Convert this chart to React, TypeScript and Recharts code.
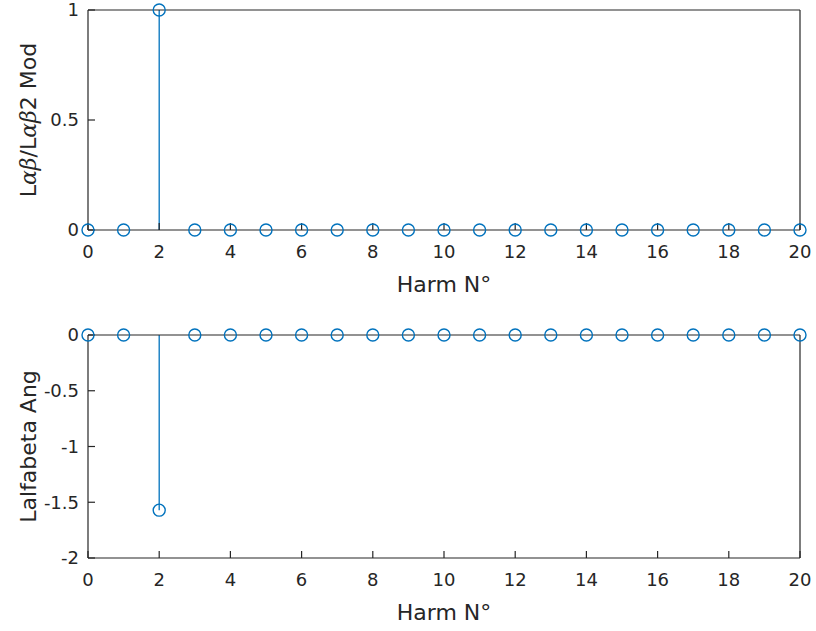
import React from "react";
import {
  ComposedChart,
  Line,
  XAxis,
  YAxis,
  ReferenceLine,
} from "recharts";

const harmonics = [0, 1, 2, 3, 4, 5, 6, 7, 8, 9, 10, 11, 12, 13, 14, 15, 16, 17, 18, 19, 20];
const modValues = [0, 0, 1, 0, 0, 0, 0, 0, 0, 0, 0, 0, 0, 0, 0, 0, 0, 0, 0, 0, 0];
const angValues = [0, 0, -1.5708, 0, 0, 0, 0, 0, 0, 0, 0, 0, 0, 0, 0, 0, 0, 0, 0, 0, 0];

const xTicks = [0, 2, 4, 6, 8, 10, 12, 14, 16, 18, 20];
const modTicks = [0, 0.5, 1];
const angTicks = [-2, -1.5, -1, -0.5, 0];

const STEM = "#0072BD";
const INK = "#262626";
const FONT = "DejaVu Sans, Liberation Sans, Arial, sans-serif";

const modData = harmonics.map((h, i) => ({ h, v: modValues[i] }));
const angData = harmonics.map((h, i) => ({ h, v: angValues[i] }));

// tick labels drawn by hand so the font size sticks
function XTick(props: any) {
  const { x, y, payload } = props;
  return (
    <text x={x} y={y} dy="0.72em" textAnchor="middle" fontSize={18} fontFamily={FONT} fill={INK}>
      {payload.value}
    </text>
  );
}

function YTick(props: any) {
  const { x, y, payload } = props;
  return (
    <text x={x} y={y} dy="0.36em" textAnchor="end" fontSize={18} fontFamily={FONT} fill={INK}>
      {payload.value}
    </text>
  );
}

function yLabel(content: React.ReactNode) {
  return (props: any) => {
    const vb = props.viewBox || {};
    const cx = vb.x + 30;
    const cy = vb.y + vb.height / 2;
    return (
      <text
        x={cx}
        y={cy}
        transform={`rotate(-90, ${cx}, ${cy})`}
        textAnchor="middle"
        dominantBaseline="middle"
        fontSize={22}
        fontFamily={FONT}
        fill={INK}
      >
        {content}
      </text>
    );
  };
}

const greek = (s: string) => (
  <tspan fontStyle="italic" fontFamily="DejaVu Serif, serif">
    {s}
  </tspan>
);

function StemPanel({
  data,
  domain,
  yTicks,
  label,
  height,
  marginTop,
  axisHeight,
}: {
  data: { h: number; v: number }[];
  domain: [number, number];
  yTicks: number[];
  label: React.ReactNode;
  height: number;
  marginTop: number;
  axisHeight: number;
}) {
  return (
    <ComposedChart
      width={816}
      height={height}
      data={data}
      margin={{ top: marginTop, right: 15, bottom: 0, left: 0 }}
    >
      <XAxis
        dataKey="h"
        type="number"
        domain={[0, 20]}
        ticks={xTicks}
        interval={0}
        stroke={INK}
        strokeWidth={1.2}
        tick={<XTick />}
        tickSize={-7}
        tickMargin={22}
        height={axisHeight}
        label={{
          value: "Harm N°",
          position: "insideTop",
          offset: 46,
          fontSize: 22,
          fontFamily: FONT,
          fill: INK,
        }}
      />
      <XAxis
        xAxisId="top"
        orientation="top"
        dataKey="h"
        type="number"
        domain={[0, 20]}
        ticks={xTicks}
        interval={0}
        stroke={INK}
        strokeWidth={1.2}
        tick={false}
        tickSize={-7}
        height={1}
      />
      <YAxis
        type="number"
        domain={domain}
        ticks={yTicks}
        interval={0}
        stroke={INK}
        strokeWidth={1.2}
        tick={<YTick />}
        tickSize={-7}
        tickMargin={16}
        width={88}
        label={{ content: yLabel(label) }}
      />
      <YAxis
        yAxisId="right"
        orientation="right"
        type="number"
        domain={domain}
        ticks={yTicks}
        interval={0}
        stroke={INK}
        strokeWidth={1.2}
        tick={false}
        tickSize={-7}
        width={1}
      />
      {data
        .filter((d) => d.v !== 0)
        .map((d) => (
          <ReferenceLine
            key={d.h}
            segment={[
              { x: d.h, y: 0 },
              { x: d.h, y: d.v },
            ]}
            stroke={STEM}
            strokeWidth={1.3}
          />
        ))}
      <Line
        dataKey="v"
        stroke="none"
        isAnimationActive={false}
        dot={{ r: 6, stroke: STEM, strokeWidth: 1.4, fill: "none" }}
        activeDot={false}
      />
    </ComposedChart>
  );
}

export default function App() {
  return (
    <div
      style={{
        position: "absolute",
        left: 0,
        top: 0,
        width: 816,
        height: 631,
        background: "#fff",
      }}
    >
      <StemPanel
        data={modData}
        domain={[0, 1]}
        yTicks={modTicks}
        label={
          <>
            L{greek("αβ")}/L{greek("αβ")}2 Mod
          </>
        }
        height={315}
        marginTop={9}
        axisHeight={85}
      />
      <StemPanel
        data={angData}
        domain={[-2, 0]}
        yTicks={angTicks}
        label="Lalfabeta Ang"
        height={316}
        marginTop={19}
        axisHeight={73}
      />
    </div>
  );
}
